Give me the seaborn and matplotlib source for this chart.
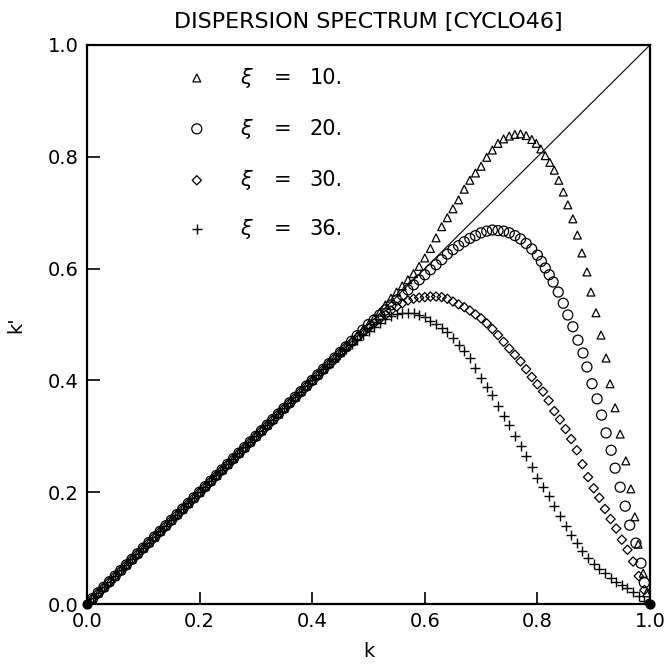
import numpy as np
import pandas as pd
import matplotlib
matplotlib.use("Agg")
import matplotlib.pyplot as plt
import seaborn as sns

# ---------------- data ----------------
k_shared = [0.00, 0.01, 0.02, 0.03, 0.04, 0.05, 0.06, 0.07, 0.08, 0.09,
            0.10, 0.11, 0.12, 0.13, 0.14, 0.15, 0.16, 0.17, 0.18, 0.19,
            0.20, 0.21, 0.22, 0.23, 0.24, 0.25, 0.26, 0.27, 0.28, 0.29,
            0.30, 0.31, 0.32, 0.33, 0.34, 0.35, 0.36, 0.37, 0.38, 0.39,
            0.40, 0.41, 0.42]
kp_shared = [0.00, 0.01, 0.02, 0.03, 0.04, 0.05, 0.06, 0.07, 0.08, 0.09,
             0.10, 0.11, 0.12, 0.13, 0.14, 0.15, 0.16, 0.17, 0.18, 0.19,
             0.20, 0.21, 0.22, 0.23, 0.24, 0.25, 0.26, 0.27, 0.28, 0.29,
             0.30, 0.31, 0.32, 0.33, 0.34, 0.35, 0.36, 0.37, 0.38, 0.39,
             0.40, 0.41, 0.42]

# xi = 10 (triangles)
k10 = [0.43, 0.44, 0.45, 0.46, 0.47, 0.48, 0.49, 0.50, 0.51, 0.52, 0.53, 0.54,
       0.55, 0.56, 0.57, 0.58, 0.59, 0.60, 0.61, 0.62, 0.63, 0.64, 0.65, 0.66,
       0.67, 0.68, 0.69, 0.70, 0.71, 0.72, 0.73, 0.74, 0.75, 0.76, 0.77, 0.78,
       0.79, 0.798, 0.806, 0.814, 0.822, 0.830, 0.838, 0.846, 0.854, 0.863,
       0.871, 0.879, 0.888, 0.895, 0.904, 0.913, 0.922, 0.929, 0.938, 0.947,
       0.957, 0.966, 0.973, 0.979, 0.988, 0.994, 1.000]
kp10 = [0.43, 0.44, 0.45, 0.46, 0.47, 0.48, 0.49, 0.50, 0.511, 0.522, 0.535,
        0.547, 0.558, 0.569, 0.580, 0.591, 0.604, 0.619, 0.636, 0.655, 0.675,
        0.691, 0.707, 0.723, 0.742, 0.758, 0.771, 0.783, 0.799, 0.812, 0.824,
        0.832, 0.837, 0.840, 0.841, 0.838, 0.831, 0.824, 0.814, 0.802, 0.790,
        0.776, 0.758, 0.737, 0.714, 0.689, 0.660, 0.628, 0.594, 0.558, 0.521,
        0.481, 0.440, 0.394, 0.351, 0.304, 0.256, 0.206, 0.156, 0.107, 0.055,
        0.020, 0.000]

# xi = 20 (circles)
k20 = [0.43, 0.44, 0.45, 0.46, 0.47, 0.48, 0.49, 0.50, 0.51, 0.52, 0.53, 0.54,
       0.55, 0.56, 0.57, 0.58, 0.59, 0.60, 0.61, 0.62, 0.63, 0.64, 0.65, 0.66,
       0.67, 0.68, 0.69, 0.70, 0.71, 0.72, 0.73, 0.74, 0.75, 0.76, 0.77, 0.78,
       0.79, 0.80, 0.807, 0.814, 0.821, 0.828, 0.837, 0.846, 0.854, 0.863,
       0.872, 0.881, 0.888, 0.897, 0.906, 0.914, 0.922, 0.931, 0.938, 0.947,
       0.956, 0.964, 0.975, 0.984, 0.990, 1.000]
kp20 = [0.43, 0.44, 0.45, 0.46, 0.47, 0.48, 0.49, 0.50, 0.508, 0.517, 0.526,
        0.535, 0.544, 0.553, 0.562, 0.571, 0.580, 0.589, 0.598, 0.607, 0.616,
        0.626, 0.634, 0.641, 0.648, 0.654, 0.659, 0.664, 0.667, 0.669, 0.668,
        0.667, 0.664, 0.659, 0.653, 0.645, 0.635, 0.624, 0.613, 0.601, 0.589,
        0.576, 0.558, 0.538, 0.517, 0.496, 0.472, 0.449, 0.424, 0.394, 0.367,
        0.338, 0.306, 0.275, 0.243, 0.209, 0.175, 0.141, 0.109, 0.073, 0.038,
        0.000]

k_tail = [0.43, 0.44, 0.45, 0.46, 0.47, 0.48, 0.49, 0.50, 0.51, 0.52,
          0.53, 0.54, 0.55, 0.56, 0.57, 0.58, 0.59, 0.60, 0.61, 0.62,
          0.63, 0.64, 0.65, 0.66, 0.67, 0.68, 0.69, 0.70, 0.71, 0.72,
          0.73, 0.74, 0.75, 0.76, 0.77, 0.78, 0.79, 0.80, 0.81, 0.82,
          0.83, 0.84, 0.85, 0.86, 0.87, 0.88, 0.89, 0.90, 0.91, 0.92,
          0.93, 0.94, 0.95, 0.96, 0.97, 0.98, 0.99, 1.00]

# xi = 30 (diamonds)
kp30 = [0.43, 0.44, 0.45, 0.46,
        0.468, 0.477, 0.486, 0.494, 0.502, 0.510, 0.517, 0.525, 0.532, 0.538,
        0.543, 0.546, 0.548, 0.549, 0.550, 0.550, 0.549, 0.546, 0.541, 0.536,
        0.531, 0.525, 0.518, 0.511, 0.502, 0.492, 0.481, 0.469, 0.457, 0.446,
        0.434, 0.420, 0.406, 0.393, 0.380, 0.364, 0.345, 0.330, 0.313, 0.295,
        0.275, 0.250, 0.227, 0.207, 0.190, 0.170, 0.152, 0.135, 0.115, 0.097,
        0.076, 0.050, 0.025, 0.000]

# xi = 36 (plus)
kp36 = [0.429, 0.438, 0.447, 0.456, 0.465, 0.473, 0.481, 0.489, 0.496, 0.503,
        0.510, 0.515, 0.518, 0.520, 0.521, 0.520, 0.517, 0.513, 0.507, 0.501,
        0.494, 0.486, 0.476, 0.464, 0.452, 0.440, 0.423, 0.405, 0.388, 0.373,
        0.355, 0.337, 0.320, 0.300, 0.282, 0.265, 0.245, 0.226, 0.209, 0.194,
        0.176, 0.158, 0.140, 0.124, 0.109, 0.095, 0.082, 0.071, 0.062, 0.055,
        0.047, 0.040, 0.034, 0.028, 0.021, 0.014, 0.006, 0.000]

xi_labels = ["10.", "20.", "30.", "36."]
markers = ["^", "o", "D", "+"]
sizes = [32, 52, 22, 45]

series = [
    (k_shared + k10, kp_shared + kp10),
    (k_shared + k20, kp_shared + kp20),
    (k_shared + k_tail, kp_shared + kp30),
    (k_shared + k_tail, kp_shared + kp36),
]

# ---------------- plot ----------------
sns.set_theme(style="white")
plt.rcParams["font.family"] = ["DejaVu Sans"]
plt.rcParams["text.color"] = "black"
plt.rcParams["axes.labelcolor"] = "black"

fig = plt.figure(figsize=(6.66, 6.69), dpi=100)
ax = fig.add_axes([87 / 666, 65 / 669, 563 / 666, 559 / 669])

# diagonal k' = k
ax.plot([0, 1], [0, 1], color="black", lw=0.8, zorder=1)

for (kx, ky), m, s, lab in zip(series, markers, sizes, xi_labels):
    df = pd.DataFrame({"k": kx, "kp": ky})
    if m == "+":
        sns.scatterplot(data=df, x="k", y="kp", marker=m, s=s, color="black",
                        linewidth=1.0, ax=ax, zorder=3, legend=False)
    else:
        sns.scatterplot(data=df, x="k", y="kp", marker=m, s=s,
                        facecolor="none", edgecolor="black", linewidth=0.9,
                        ax=ax, zorder=3, legend=False)

# end points
ax.scatter([0.0, 1.0], [0.0, 0.0], s=40, color="black", zorder=4, clip_on=False)

ax.set_xlim(0, 1)
ax.set_ylim(0, 1)
ticks = [0.0, 0.2, 0.4, 0.6, 0.8, 1.0]
ax.set_xticks(ticks)
ax.set_yticks(ticks)
ax.set_xticklabels([f"{t:.1f}" for t in ticks])
ax.set_yticklabels([f"{t:.1f}" for t in ticks])
ax.tick_params(axis="both", which="both", direction="in", length=9, width=1.2,
               labelsize=14, colors="black", bottom=True, left=True,
               top=False, right=False, pad=6)
for sp in ax.spines.values():
    sp.set_visible(True)
    sp.set_color("black")
    sp.set_linewidth(1.6)

ax.set_xlabel("k", fontsize=14, labelpad=8, color="black")
ax.set_ylabel("k'", fontsize=14, labelpad=16, color="black")
ax.set_title("DISPERSION SPECTRUM [CYCLO46]", fontsize=16, pad=12,
             color="black")

# in-axes legend
rows_y = [0.941, 0.850, 0.758, 0.671]
for m, s, lab, yy in zip(markers, sizes, xi_labels, rows_y):
    if m == "+":
        ax.scatter([0.195], [yy], marker=m, s=s, color="black", linewidths=1.0)
    else:
        ax.scatter([0.195], [yy], marker=m, s=s, facecolor="none",
                   edgecolor="black", linewidths=0.9)
    ax.text(0.282, yy, "ξ", fontsize=15, ha="center", va="center",
            style="italic", color="black")
    ax.text(0.348, yy, "=", fontsize=15, ha="center", va="center",
            color="black")
    ax.text(0.395, yy, lab, fontsize=15, ha="left", va="center",
            color="black")

fig.savefig("out.png", dpi=100)
